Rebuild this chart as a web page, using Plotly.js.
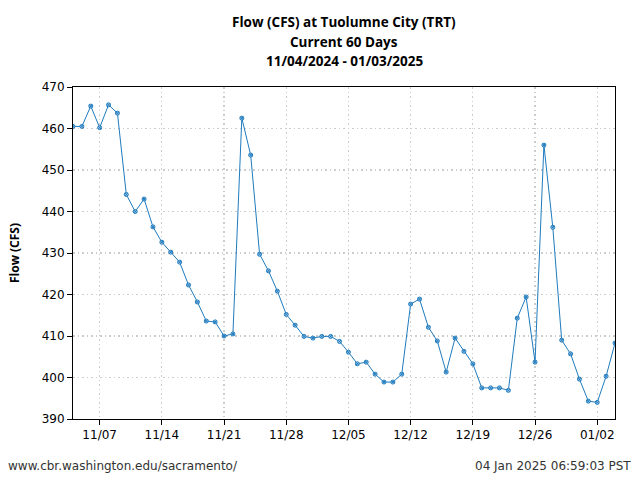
<!DOCTYPE html>
<html>
<head>
<meta charset="utf-8">
<script src="https://cdn.plot.ly/plotly-3.0.1.min.js"></script>
<style>html,body{margin:0;padding:0;background:#fff;}#chart{width:640px;height:480px;}</style>
</head>
<body>
<div id="chart"></div>
<script>
const dates = [
 "2024-11-04","2024-11-05","2024-11-06","2024-11-07","2024-11-08","2024-11-09","2024-11-10",
 "2024-11-11","2024-11-12","2024-11-13","2024-11-14","2024-11-15","2024-11-16","2024-11-17",
 "2024-11-18","2024-11-19","2024-11-20","2024-11-21","2024-11-22","2024-11-23","2024-11-24",
 "2024-11-25","2024-11-26","2024-11-27","2024-11-28","2024-11-29","2024-11-30","2024-12-01",
 "2024-12-02","2024-12-03","2024-12-04","2024-12-05","2024-12-06","2024-12-07","2024-12-08",
 "2024-12-09","2024-12-10","2024-12-11","2024-12-12","2024-12-13","2024-12-14","2024-12-15",
 "2024-12-16","2024-12-17","2024-12-18","2024-12-19","2024-12-20","2024-12-21","2024-12-22",
 "2024-12-23","2024-12-24","2024-12-25","2024-12-26","2024-12-27","2024-12-28","2024-12-29",
 "2024-12-30","2024-12-31","2025-01-01","2025-01-02","2025-01-03","2025-01-04"
];
const flow = [
 460.5, 460.5, 465.4, 460.2, 465.7, 463.7, 444.1,
 440.0, 443.0, 436.3, 432.6, 430.2, 427.8, 422.3,
 418.2, 413.6, 413.4, 410.0, 410.5, 462.5, 453.6,
 429.7, 425.7, 420.8, 415.2, 412.6, 409.9, 409.5,
 409.9, 409.9, 408.7, 406.1, 403.3, 403.7, 400.8,
 398.9, 398.9, 400.8, 417.7, 418.9, 412.1, 408.8,
 401.3, 409.5, 406.3, 403.3, 397.5, 397.5, 397.5,
 396.9, 414.3, 419.4, 403.7, 456.0, 436.2, 409.0,
 405.7, 399.6, 394.3, 394.0, 400.3, 408.3
];
const tickDates = ["2024-11-07","2024-11-14","2024-11-21","2024-11-28","2024-12-05","2024-12-12","2024-12-19","2024-12-26","2025-01-02"];
const tickLabels = ["11/07","11/14","11/21","11/28","12/05","12/12","12/19","12/26","01/02"];
const yTicks = [390,400,410,420,430,440,450,460,470];
const titleLines = ["Flow (CFS) at Tuolumne City (TRT)", "Current 60 Days", "11/04/2024 - 01/03/2025"];

const lineColor = "#1f7bbd";
const trace = {
  x: dates, y: flow, type: "scatter", mode: "lines+markers",
  line: {color: lineColor, width: 1},
  marker: {symbol: "circle-x", size: 4, color: "#a8cdea", line: {color: lineColor, width: 1}},
  hoverinfo: "x+y"
};
const font = "DejaVu Sans, sans-serif";
const tfont = "Open Sans, sans-serif";
// paper y for pixel row py: (419 - py) / 332 ; paper x for pixel px: (px - 73) / 542
const annotations = titleLines.map((t, i) => ({
  text: "<b>" + t + "</b>", xref: "paper", yref: "paper",
  x: (344 - 73) / 542, y: (419 - (22 + i * 19.5)) / 332,
  xanchor: "center", yanchor: "middle", showarrow: false,
  font: {family: tfont, size: 13.5, color: "#000"}
}));
annotations.push(
  {text: "www.cbr.washington.edu/sacramento/", xref: "paper", yref: "paper",
   x: -0.124, y: -0.141, xanchor: "left", yanchor: "middle", showarrow: false,
   font: {family: font, size: 12, color: "#333"}},
  {text: "04 Jan 2025 06:59:03 PST", xref: "paper", yref: "paper",
   x: 1.033, y: -0.141, xanchor: "right", yanchor: "middle", showarrow: false,
   font: {family: font, size: 12, color: "#333"}}
);
const layout = {
  width: 640, height: 480,
  margin: {l: 73, r: 25, t: 87, b: 61},
  paper_bgcolor: "#fff", plot_bgcolor: "#fff",
  showlegend: false,
  font: {family: font, size: 12, color: "#000"},
  xaxis: {
    type: "date", range: [dates[0], dates[dates.length - 1]],
    tickmode: "array", tickvals: tickDates, ticktext: tickLabels,
    ticks: "outside", ticklen: 5, tickcolor: "#000", tickwidth: 1,
    showline: true, linecolor: "#000", linewidth: 1, mirror: true,
    showgrid: true, gridcolor: "#cccccc", griddash: "1.5px,3px", gridwidth: 1.2,
    zeroline: false, tickfont: {family: font, size: 12, color: "#000"}
  },
  yaxis: {
    range: [390, 470], tickmode: "array", tickvals: yTicks,
    ticks: "outside", ticklen: 5, tickcolor: "#000", tickwidth: 1,
    showline: true, linecolor: "#000", linewidth: 1, mirror: true,
    showgrid: true, gridcolor: "#cccccc", griddash: "1.5px,3px", gridwidth: 1.2,
    zeroline: false, tickfont: {family: font, size: 12, color: "#000"},
    title: {text: "<b>Flow (CFS)</b>", font: {family: tfont, size: 12, color: "#000"}, standoff: 19}
  },
  annotations: annotations
};
Plotly.newPlot("chart", [trace], layout, {displayModeBar: false, staticPlot: true});
</script>
</body>
</html>
